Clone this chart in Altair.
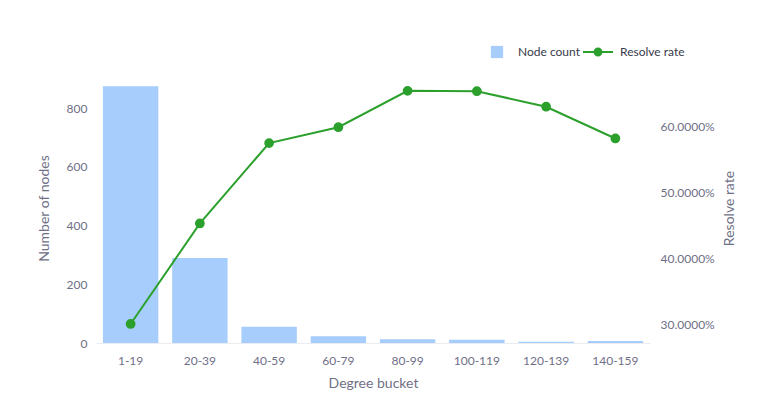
import altair as alt
import pandas as pd

buckets = ["1-19", "20-39", "40-59", "60-79", "80-99", "100-119", "120-139", "140-159"]
node_count = [875, 290, 55, 23, 13, 11, 4, 7]
resolve_rate = [0.3015, 0.4535, 0.5750, 0.5990, 0.6540, 0.6535, 0.6300, 0.5820]

df = pd.DataFrame({
    "bucket": buckets,
    "nodes": node_count,
    "rate": resolve_rate,
    "bar_series": "Node count",
    "line_series": "Resolve rate",
})

FONT = "Source Sans Pro, Lato, sans-serif"
GRAY = "#6f6f87"
BLUE = "#a6cdfb"
GREEN = "#2ca02c"

# line with a dot in the middle, for the legend
line_dot = "M-1.4,0L1.4,0M0.32,0A0.32,0.32,0,1,1,-0.32,0A0.32,0.32,0,1,1,0.32,0Z"

base = alt.Chart(df)

x = alt.X("bucket:N", sort=buckets, title="Degree bucket",
          scale=alt.Scale(paddingInner=0.2, paddingOuter=0.1),
          axis=alt.Axis(labelAngle=0, ticks=False, labelPadding=12,
                        domainColor="#ebebf2", titlePadding=10))

bars = base.mark_bar(color=BLUE).encode(
    x=x,
    y=alt.Y("nodes:Q", title="Number of nodes",
            scale=alt.Scale(domain=[0, 920], nice=False),
            axis=alt.Axis(values=[0, 200, 400, 600, 800], domain=False,
                          ticks=False, grid=False, labelPadding=9,
                          titlePadding=15)),
    fill=alt.Fill("bar_series:N", title=None,
                  scale=alt.Scale(domain=["Node count"], range=[BLUE]),
                  legend=alt.Legend(orient="none", legendX=394, legendY=-28,
                                    symbolType="square", symbolSize=150,
                                    labelOffset=14)),
)

line = base.mark_line(color=GREEN, strokeWidth=2,
                      point=alt.OverlayMarkDef(color=GREEN, size=60, filled=True)).encode(
    x=x,
    y=alt.Y("rate:Q", title="Resolve rate",
            scale=alt.Scale(domain=[0.2727, 0.681], nice=False, zero=False),
            axis=alt.Axis(orient="right", format=".4%", values=[0.3, 0.4, 0.5, 0.6],
                          domain=False, ticks=False, grid=False, labelPadding=10,
                          titlePadding=22, titleAngle=270)),
    stroke=alt.Stroke("line_series:N", title=None,
                      scale=alt.Scale(domain=["Resolve rate"], range=[GREEN]),
                      legend=alt.Legend(orient="none", legendX=490, legendY=-33,
                                        symbolType=line_dot, symbolSize=460,
                                        symbolFillColor=GREEN, symbolStrokeWidth=2,
                                        labelOffset=10)),
)

chart = (
    alt.layer(bars, line)
    .resolve_scale(y="independent", fill="independent", stroke="independent")
    .properties(width=554, height=270, padding={"left": 29, "top": 32, "right": 5, "bottom": 5})
    .configure_view(stroke=None)
    .configure_axis(labelFont=FONT, titleFont=FONT, labelColor=GRAY, titleColor=GRAY,
                    labelFontSize=12, titleFontSize=14, titleFontWeight="normal")
    .configure_legend(labelFont=FONT, labelFontSize=12, labelColor="#3a3a4a")
)

chart.save("out.html", embed_options={"renderer": "svg", "actions": False})
